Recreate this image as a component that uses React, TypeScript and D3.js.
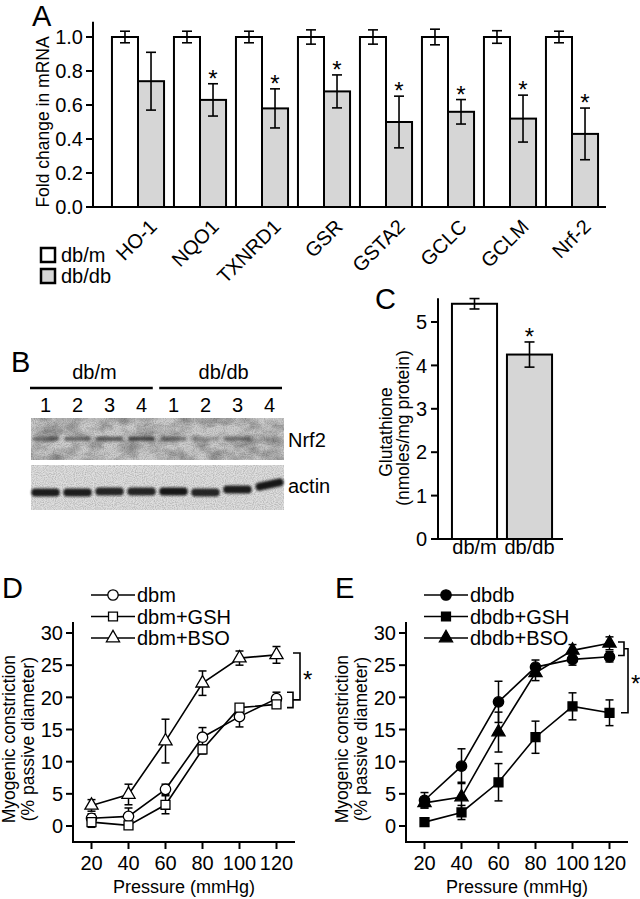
import * as d3 from 'd3'
import React from 'react'

// A: fold change in mRNA
const genes = ['HO-1', 'NQO1', 'TXNRD1', 'GSR', 'GSTA2', 'GCLC', 'GCLM', 'Nrf-2']
const dbmFold = [1, 1, 1, 1, 1, 1, 1, 1]
const dbmFoldErr = [0.034, 0.034, 0.034, 0.042, 0.042, 0.046, 0.037, 0.034]
const dbdbFold = [0.74, 0.63, 0.58, 0.68, 0.5, 0.56, 0.52, 0.43]
const dbdbFoldErr = [0.17, 0.095, 0.115, 0.097, 0.152, 0.072, 0.138, 0.152]
const foldSig = [false, true, true, true, true, true, true, true]
const foldTicks = [0, 0.2, 0.4, 0.6, 0.8, 1.0]

// B: western blot
const blotGroups = ['db/m', 'db/db']
const laneLabels = ['1', '2', '3', '4', '1', '2', '3', '4']
const nrf2Band = [0.5, 0.55, 0.55, 0.72, 0.45, 0.25, 0.45, 0.08]
const actinBand = [0.92, 0.92, 0.88, 0.88, 0.95, 0.88, 0.92, 0.95]

// C: glutathione
const gshGroups = ['db/m', 'db/db']
const gshMean = [5.42, 4.25]
const gshErr = [0.12, 0.29]
const gshTicks = [0, 1, 2, 3, 4, 5]

// D, E: myogenic constriction
const pressure = [20, 40, 60, 80, 100, 120]
const dbm = [1.2, 1.5, 5.7, 13.8, 17.0, 19.8]
const dbmErr = [0.7, 1.3, 0.8, 1.5, 1.6, 1.0]
const dbmGsh = [0.6, 0.1, 3.3, 11.9, 18.4, 18.9]
const dbmGshErr = [0.8, 0.3, 1.4, 0.7, 0.4, 0.6]
const dbmBso = [3.2, 4.9, 13.2, 22.2, 26.1, 26.6]
const dbmBsoErr = [0.9, 1.6, 3.4, 1.9, 1.1, 1.3]
const dbdb = [4.0, 9.3, 19.3, 24.7, 25.9, 26.3]
const dbdbErr = [1.2, 2.7, 3.2, 1.1, 0.9, 0.8]
const dbdbGsh = [0.6, 2.1, 6.8, 13.8, 18.6, 17.6]
const dbdbGshErr = [0.3, 1.1, 2.9, 2.5, 2.1, 2.0]
const dbdbBso = [3.6, 4.5, 14.6, 23.8, 27.3, 28.4]
const dbdbBsoErr = [0.8, 2.3, 3.1, 1.2, 0.9, 1.0]
const constrictionTicks = [0, 5, 10, 15, 20, 25, 30]
const pressureTicks = [20, 40, 60, 80, 100, 120]

const FONT = 'Liberation Sans, Arial, Helvetica, sans-serif'
const GRAY = '#d6d6d6'
const TICK = 20
const LABEL = 20

const ErrorBar = ({ x, y0, y1, w, sw = 1.6 }: { x: number, y0: number, y1: number, w: number, sw?: number }) => (
  <g stroke='#000' strokeWidth={sw}>
    <line x1={x} x2={x} y1={y0} y2={y1} />
    <line x1={x - w / 2} x2={x + w / 2} y1={y0} y2={y0} />
    <line x1={x - w / 2} x2={x + w / 2} y1={y1} y2={y1} />
  </g>
)

const Star = ({ x, y, anchor = 'middle' }: { x: number, y: number, anchor?: string }) => (
  <text x={x} y={y} fontSize={24} textAnchor={anchor}>*</text>
)

const PanelA = () => {
  const
    x = d3.scaleBand<string>().domain(genes).range([107, 603]).paddingInner(0.16).paddingOuter(0.08),
    sub = d3.scaleBand<string>().domain(['m', 'db']).range([0, x.bandwidth()]),
    y = d3.scaleLinear().domain([0, 1]).range([207, 37])
  return (
    <g>
      <text x={32} y={26} fontSize={29}>A</text>
      {genes.map((g, i) => {
        const x0 = x(g)!, bw = sub.bandwidth()
        const cm = x0 + sub('m')! + bw / 2, cd = x0 + sub('db')! + bw / 2
        return (
          <g key={g}>
            <rect x={x0 + sub('m')!} y={y(dbmFold[i])} width={bw} height={y(0) - y(dbmFold[i])} fill='#fff' stroke='#000' strokeWidth={2} />
            <rect x={x0 + sub('db')!} y={y(dbdbFold[i])} width={bw} height={y(0) - y(dbdbFold[i])} fill={GRAY} stroke='#000' strokeWidth={2} />
            <ErrorBar x={cm} y0={y(dbmFold[i] + dbmFoldErr[i])} y1={y(dbmFold[i] - dbmFoldErr[i])} w={10} />
            <ErrorBar x={cd} y0={y(dbdbFold[i] + dbdbFoldErr[i])} y1={y(dbdbFold[i] - dbdbFoldErr[i])} w={10} />
            {foldSig[i] && <Star x={cd} y={y(dbdbFold[i] + dbdbFoldErr[i]) + 3} />}
            <text transform={`translate(${x0 + x.bandwidth() / 2 + 20},228) rotate(-45)`} textAnchor='end' fontSize={LABEL}>{g}</text>
          </g>
        )
      })}
      <line x1={93} x2={93} y1={y(1.09)} y2={y(0)} stroke='#000' strokeWidth={2} />
      <line x1={92} x2={606} y1={y(0)} y2={y(0)} stroke='#000' strokeWidth={2} />
      {foldTicks.map(t => (
        <g key={t}>
          <line x1={86} x2={93} y1={y(t)} y2={y(t)} stroke='#000' strokeWidth={2} />
          <text x={83} y={y(t)} dy='0.36em' textAnchor='end' fontSize={TICK}>{t.toFixed(1)}</text>
        </g>
      ))}
      <text transform={`translate(49,${y(0.5)}) rotate(-90)`} textAnchor='middle' fontSize={17.5}>Fold change in mRNA</text>
      <rect x={41} y={248} width={14} height={14} fill='#fff' stroke='#000' strokeWidth={2.5} />
      <rect x={41} y={269} width={14} height={14} fill={GRAY} stroke='#000' strokeWidth={2.5} />
      <text x={61} y={262} fontSize={LABEL}>db/m</text>
      <text x={61} y={283} fontSize={LABEL}>db/db</text>
    </g>
  )
}

const PanelB = () => {
  const
    lanes = d3.scaleBand<number>().domain(d3.range(8)).range([31, 284]).paddingInner(0.17).paddingOuter(0.04),
    grp = d3.scaleBand<string>().domain(blotGroups).range([30, 282]).paddingInner(0.05),
    actinShift = [0, 0, -1, -1, -1, 0, -3, -8]
  return (
    <g>
      <defs>
        <filter id='mottle' x='0' y='0' width='100%' height='100%'>
          <feTurbulence type='fractalNoise' baseFrequency='0.05 0.08' numOctaves={4} seed={5} />
          <feColorMatrix type='matrix' values='0 0 0 0 0  0 0 0 0 0  0 0 0 0 0  0.7 0 0 0 -0.25' />
        </filter>
        <filter id='grain' x='0' y='0' width='100%' height='100%'>
          <feTurbulence type='fractalNoise' baseFrequency='0.9' numOctaves={1} seed={2} />
          <feColorMatrix type='matrix' values='0 0 0 0 0  0 0 0 0 0  0 0 0 0 0  0.45 0 0 0 -0.17' />
        </filter>
        <filter id='soft' x='-20%' y='-100%' width='140%' height='300%'>
          <feGaussianBlur stdDeviation='1.2' />
        </filter>
      </defs>
      <text x={11} y={372} fontSize={29}>B</text>
      {blotGroups.map(g => (
        <g key={g}>
          <text x={grp(g)! + grp.bandwidth() / 2 + 3} y={379} textAnchor='middle' fontSize={LABEL}>{g}</text>
          <line x1={grp(g)!} x2={grp(g)! + grp.bandwidth()} y1={388} y2={388} stroke='#000' strokeWidth={2.6} />
        </g>
      ))}
      {laneLabels.map((l, i) => (
        <text key={i} x={lanes(i)! + lanes.bandwidth() / 2} y={412} textAnchor='middle' fontSize={LABEL}>{l}</text>
      ))}
      <rect x={31} y={418} width={253} height={42} fill='#cecece' />
      <rect x={31} y={418} width={253} height={42} filter='url(#mottle)' />
      <rect x={31} y={418} width={253} height={42} filter='url(#grain)' />
      {nrf2Band.map((v, i) => (
        <rect key={i} x={lanes(i)!} y={436.5} width={lanes.bandwidth()} height={4.5} rx={2.2} fill='#202020' opacity={v} filter='url(#soft)' />
      ))}
      <rect x={31} y={465} width={253} height={45} fill='#dedede' />
      <rect x={31} y={465} width={253} height={45} filter='url(#grain)' />
      {actinBand.map((v, i) => {
        const cx = lanes(i)! + lanes.bandwidth() / 2
        return (
          <rect key={i} x={lanes(i)! - 1} y={488.5 + actinShift[i]} width={lanes.bandwidth() + 2} height={8} rx={4}
            fill='#101010' opacity={v} filter='url(#soft)'
            transform={i === 7 ? `rotate(-12 ${cx} ${492 + actinShift[i]})` : undefined} />
        )
      })}
      <text x={288} y={447} fontSize={LABEL}>Nrf2</text>
      <text x={288} y={493} fontSize={LABEL}>actin</text>
    </g>
  )
}

const PanelC = () => {
  const
    x = d3.scaleBand<string>().domain(gshGroups).range([447, 557]).paddingInner(0.18).paddingOuter(0.09),
    y = d3.scaleLinear().domain([0, 5]).range([539, 322])
  return (
    <g>
      <text x={375} y={309} fontSize={29}>C</text>
      {gshGroups.map((g, i) => {
        const cx = x(g)! + x.bandwidth() / 2
        return (
          <g key={g}>
            <rect x={x(g)!} y={y(gshMean[i])} width={x.bandwidth()} height={y(0) - y(gshMean[i])} fill={i === 0 ? '#fff' : GRAY} stroke='#000' strokeWidth={2} />
            <ErrorBar x={cx} y0={y(gshMean[i] + gshErr[i])} y1={y(gshMean[i] - gshErr[i])} w={10} />
            <text x={cx} y={554} textAnchor='middle' fontSize={LABEL}>{g}</text>
            {i === 1 && <Star x={cx} y={y(gshMean[i] + gshErr[i]) + 3} />}
          </g>
        )
      })}
      <line x1={438} x2={438} y1={y(5.55)} y2={y(0)} stroke='#000' strokeWidth={2} />
      <line x1={437} x2={563} y1={y(0)} y2={y(0)} stroke='#000' strokeWidth={2} />
      {gshTicks.map(t => (
        <g key={t}>
          <line x1={431} x2={438} y1={y(t)} y2={y(t)} stroke='#000' strokeWidth={2} />
          <text x={427} y={y(t)} dy='0.36em' textAnchor='end' fontSize={TICK}>{t}</text>
        </g>
      ))}
      <text transform={`translate(392,432) rotate(-90)`} textAnchor='middle' fontSize={17.5}>Glutathione</text>
      <text transform={`translate(409,428) rotate(-90)`} textAnchor='middle' fontSize={17.5}>(nmoles/mg protein)</text>
    </g>
  )
}

interface Series { name: string, values: number[], errors: number[], symbol: d3.SymbolType, size: number }
interface Bracket { innerHi: number, innerLo: number, outer: number, innerX: number, outerX: number, starY: number }

const LinePanel = ({ left, letter, filled, series, bracket }: { left: number, letter: string, filled: boolean, series: Series[], bracket: Bracket }) => {
  const
    x = d3.scaleLinear().domain([20, 120]).range([left + 18.5, left + 203.5]),
    y = d3.scaleLinear().domain([0, 30]).range([826, 633]),
    line = d3.line<number>().x((_, i) => x(pressure[i])).y(v => y(v)),
    fill = filled ? '#000' : '#fff',
    innerMid = (bracket.innerHi + bracket.innerLo) / 2
  return (
    <g>
      <text x={left - 71} y={598} fontSize={29}>{letter}</text>
      {series.map((s, k) => (
        <g key={s.name}>
          <line x1={left + 18} x2={left + 62} y1={595 + k * 21.5} y2={595 + k * 21.5} stroke='#000' strokeWidth={1.6} />
          <path d={d3.symbol(s.symbol, s.size)()!} transform={`translate(${left + 40},${595 + k * 21.5})`} fill={fill} stroke='#000' strokeWidth={1.3} />
          <text x={left + 64} y={595 + k * 21.5} dy='0.36em' fontSize={LABEL}>{s.name}</text>
        </g>
      ))}
      {series.map(s => (
        <g key={s.name}>
          {s.values.map((v, i) => <ErrorBar key={i} x={x(pressure[i])} y0={y(v + s.errors[i])} y1={y(v - s.errors[i])} w={8} sw={1.5} />)}
          <path d={line(s.values)!} fill='none' stroke='#000' strokeWidth={1.6} />
        </g>
      ))}
      {series.map(s => (
        <g key={s.name}>
          {s.values.map((v, i) => (
            <path key={i} d={d3.symbol(s.symbol, s.size)()!} transform={`translate(${x(pressure[i])},${y(v)})`} fill={fill} stroke='#000' strokeWidth={1.3} />
          ))}
        </g>
      ))}
      <path d={`M${bracket.innerX - 6},${y(bracket.innerHi)}H${bracket.innerX}V${y(bracket.innerLo)}H${bracket.innerX - 6}`} fill='none' stroke='#000' strokeWidth={1.6} />
      <path d={`M${bracket.innerX},${y(innerMid)}H${bracket.outerX}V${y(bracket.outer)}H${bracket.outerX - 7}`} fill='none' stroke='#000' strokeWidth={1.6} />
      <Star x={bracket.outerX + 3} y={bracket.starY} anchor='start' />
      <line x1={left} x2={left} y1={622} y2={842} stroke='#000' strokeWidth={2} />
      <line x1={left - 1} x2={left + 222} y1={842} y2={842} stroke='#000' strokeWidth={2} />
      {constrictionTicks.map(t => (
        <g key={t}>
          <line x1={left - 7} x2={left} y1={y(t)} y2={y(t)} stroke='#000' strokeWidth={2} />
          <text x={left - 10} y={y(t)} dy='0.36em' textAnchor='end' fontSize={TICK}>{t}</text>
        </g>
      ))}
      {pressureTicks.map(t => (
        <g key={t}>
          <line x1={x(t)} x2={x(t)} y1={842} y2={849} stroke='#000' strokeWidth={2} />
          <text x={x(t)} y={870} textAnchor='middle' fontSize={TICK}>{t}</text>
        </g>
      ))}
      <text x={x(70)} y={893} textAnchor='middle' fontSize={18}>Pressure (mmHg)</text>
      <text transform={`translate(${left - 58},${y(13.5)}) rotate(-90)`} textAnchor='middle' fontSize={17.5}>Myogenic constriction</text>
      <text transform={`translate(${left - 39},${y(13.5)}) rotate(-90)`} textAnchor='middle' fontSize={17.5}>(% passive diameter)</text>
    </g>
  )
}

export default function App() {
  const
    seriesD: Series[] = [
      { name: 'dbm', values: dbm, errors: dbmErr, symbol: d3.symbolCircle, size: 85 },
      { name: 'dbm+GSH', values: dbmGsh, errors: dbmGshErr, symbol: d3.symbolSquare, size: 80 },
      { name: 'dbm+BSO', values: dbmBso, errors: dbmBsoErr, symbol: d3.symbolTriangle, size: 75 },
    ],
    seriesE: Series[] = [
      { name: 'dbdb', values: dbdb, errors: dbdbErr, symbol: d3.symbolCircle, size: 85 },
      { name: 'dbdb+GSH', values: dbdbGsh, errors: dbdbGshErr, symbol: d3.symbolSquare, size: 80 },
      { name: 'dbdb+BSO', values: dbdbBso, errors: dbdbBsoErr, symbol: d3.symbolTriangle, size: 75 },
    ]
  return (
    <svg width={640} height={899} style={{ position: 'absolute', left: 0, top: 0, background: '#fff' }} fontFamily={FONT}>
      <PanelA />
      <PanelB />
      <PanelC />
      <LinePanel left={73} letter='D' filled={false} series={seriesD}
        bracket={{ innerHi: 20.8, innerLo: 18.4, outer: 26.9, innerX: 293, outerX: 300, starY: 688 }} />
      <LinePanel left={406} letter='E' filled={true} series={seriesE}
        bracket={{ innerHi: 28.6, innerLo: 26.5, outer: 17.6, innerX: 624, outerX: 628, starY: 692 }} />
    </svg>
  )
}
